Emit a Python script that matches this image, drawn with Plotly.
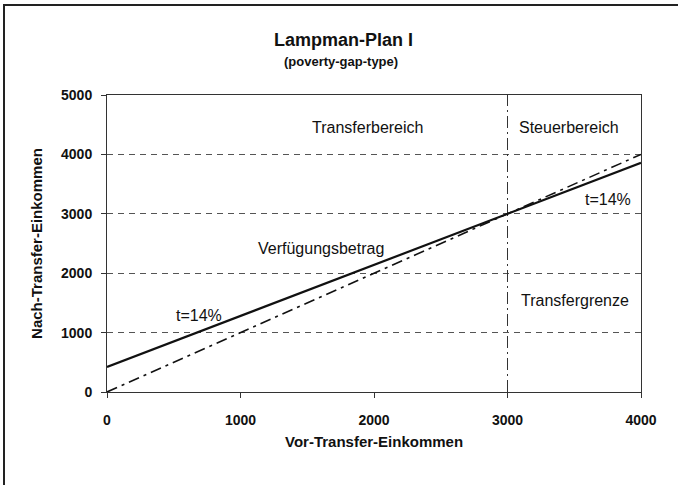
import plotly.graph_objects as go

# Data
x_vals = [0, 4000]
nach_transfer = [420, 3860]      # t = 14%, Transfergrenze 3000
diagonal = [0, 4000]
transfer_grenze_x = [3000, 3000]
transfer_grenze_y = [0, 5000]
x_ticks = [0, 1000, 2000, 3000, 4000]
y_ticks = [0, 1000, 2000, 3000, 4000, 5000]

labels = ["Transferbereich", "Steuerbereich", "t=14%", "Transfergrenze", "Verfügungsbetrag", "t=14%"]
label_x = [1955, 3461, 3753, 3506, 1603, 689]
label_y = [4446, 4446, 3238, 1544, 2416, 1292]

FONT = "Liberation Sans, Arial, sans-serif"
L, R, T, B = 107, 641, 95, 392
PW, PH = R - L, B - T

fig = go.Figure()
fig.add_trace(go.Scatter(x=transfer_grenze_x, y=transfer_grenze_y, mode="lines",
                         line=dict(color="#333", width=1, dash="12px,4px,2px,4px"),
                         showlegend=False, hoverinfo="skip"))
fig.add_trace(go.Scatter(x=x_vals, y=diagonal, mode="lines",
                         line=dict(color="#111", width=1.6, dash="11px,5px,3px,5px"), showlegend=False))
fig.add_trace(go.Scatter(x=x_vals, y=nach_transfer, mode="lines",
                         line=dict(color="#111", width=2.2), showlegend=False))

for t, xx, yy in zip(labels, label_x, label_y):
    fig.add_annotation(x=xx, y=yy, text=t, showarrow=False, xanchor="center", yanchor="middle",
                       font=dict(family=FONT, size=16, color="#111"))

fig.add_annotation(xref="paper", yref="paper", x=(343 - L) / PW, y=1 + (T - 40) / PH,
                   xanchor="center", yanchor="middle",
                   text="<b>Lampman-Plan I</b>", showarrow=False,
                   font=dict(family=FONT, size=18, color="#111"))
fig.add_annotation(xref="paper", yref="paper", x=(341 - L) / PW, y=1 + (T - 62) / PH,
                   xanchor="center", yanchor="middle",
                   text="<b>(poverty-gap-type)</b>", showarrow=False,
                   font=dict(family=FONT, size=13, color="#111"))
fig.add_annotation(xref="paper", yref="paper", x=0.5, y=-(441 - B) / PH,
                   xanchor="center", yanchor="middle",
                   text="<b>Vor-Transfer-Einkommen</b>", showarrow=False,
                   font=dict(family=FONT, size=15, color="#111"))

# outer frame
fig.add_shape(type="rect", xref="paper", yref="paper",
              x0=-(L - 4) / PW, x1=1 + (700 - R) / PW,
              y0=-(500 - B) / PH, y1=1 + (T - 5) / PH,
              line=dict(color="#222", width=2))

fig.update_layout(
    width=678, height=485,
    margin=dict(l=L, r=678 - R, t=T, b=485 - B),
    paper_bgcolor="white", plot_bgcolor="white",
    font=dict(family=FONT, color="#111"),
    xaxis=dict(range=[0, 4000], tickvals=x_ticks, ticktext=[f"<b>{v}</b>" for v in x_ticks],
               showgrid=False, zeroline=False, showline=True, linecolor="#333", linewidth=1,
               mirror=True, ticks="outside", ticklen=5, tickcolor="#333",
               ticklabelstandoff=10,
               tickfont=dict(size=14, family=FONT), fixedrange=True),
    yaxis=dict(range=[0, 5000], tickvals=y_ticks, ticktext=[f"<b>{v}</b>" for v in y_ticks],
               showgrid=True, gridcolor="#555", griddash="6px,5px", gridwidth=1,
               zeroline=False, showline=True, linecolor="#333", linewidth=1,
               mirror=True, ticks="outside", ticklen=5, tickcolor="#333",
               ticklabelstandoff=6,
               tickfont=dict(size=14, family=FONT),
               title=dict(text="<b>Nach-Transfer-Einkommen</b>", font=dict(size=15, family=FONT), standoff=14),
               fixedrange=True),
)

fig.write_html("out.html", config={"displayModeBar": False},
               post_script="document.body.style.margin='0';")
